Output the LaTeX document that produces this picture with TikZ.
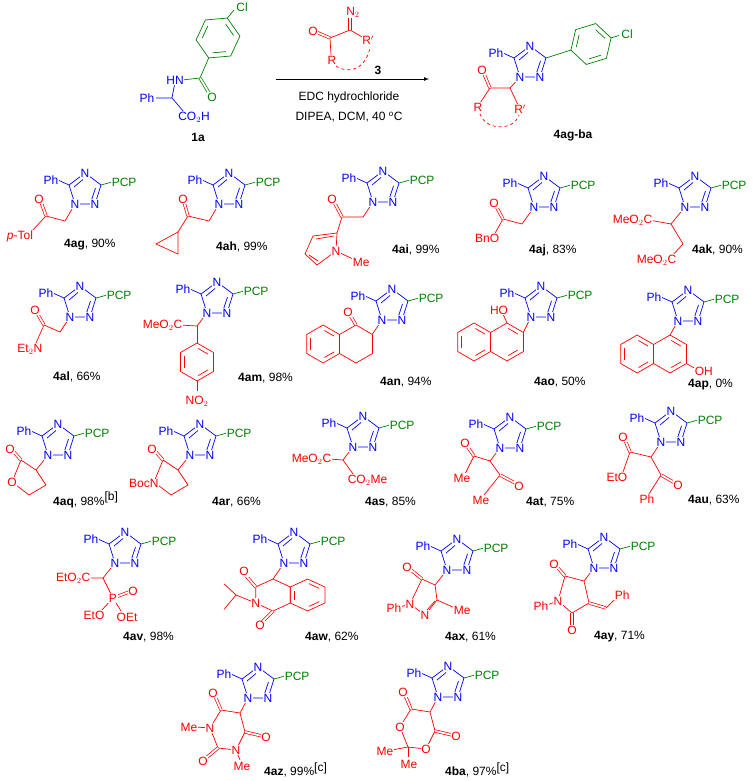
\documentclass[tikz,border=0pt]{standalone}
\usepackage{fontspec}
\usetikzlibrary{calc}
\setmainfont{Liberation Sans}
\definecolor{cb}{RGB}{0,0,255}
\definecolor{cr}{RGB}{255,0,0}
\definecolor{cg}{RGB}{0,128,0}
\newcommand\fs{\fontsize{12}{14}\selectfont}
\tikzset{b/.style={line width=0.7pt},
 db/.style={line width=0.7pt,double=white,double distance=1.8pt},
 atm/.style={fill=white,inner sep=0.6pt,font=\fs},
 lab/.style={inner sep=0pt,font=\fs,anchor=west}}
\newcommand\hexr[3]{\draw[b] (#1,#2-#3)--(#1+0.866*#3,#2-0.5*#3)--(#1+0.866*#3,#2+0.5*#3)--(#1,#2+#3)--(#1-0.866*#3,#2+0.5*#3)--(#1-0.866*#3,#2-0.5*#3)--cycle;}
\newcommand\arotwo[3]{\draw[b,shorten <=1.5pt,shorten >=1.5pt] (#1,#2-0.75*#3)--(#1+0.65*#3,#2-0.375*#3);
 \draw[b,shorten <=1.5pt,shorten >=1.5pt] (#1+0.65*#3,#2+0.375*#3)--(#1,#2+0.75*#3);}
\newcommand\aro[3]{\arotwo{#1}{#2}{#3}\draw[b,shorten <=1.5pt,shorten >=1.5pt] (#1-0.65*#3,#2+0.375*#3)--(#1-0.65*#3,#2-0.375*#3);}
% rotated aromatic hexagon: centre x, centre y, radius, angle of first vertex
\newcommand\rhex[4]{%
 \draw[b] ($(#1,#2)+(#4:#3)$) -- ($(#1,#2)+(#4+60:#3)$) -- ($(#1,#2)+(#4+120:#3)$) -- ($(#1,#2)+(#4+180:#3)$) -- ($(#1,#2)+(#4+240:#3)$) -- ($(#1,#2)+(#4+300:#3)$) -- cycle;
 \foreach \k in {0,120,240}{\draw[b,shorten <=1.5pt,shorten >=1.5pt] ($(#1,#2)+(#4+\k:0.75*#3)$) -- ($(#1,#2)+(#4+\k+60:0.75*#3)$);}}
\newcommand\tzring{%
 \draw[b,cb] (0,0)--(20,0)--(26,-19)--(10,-31)--(-6,-19)--cycle;
 \draw[b,cb] (16.5,-4)--(20.5,-16);
 \draw[b,cb] (-1,-17)--(8,-24.5);
 \draw[b,cb] (-6,-19)--(-17,-24);
 \node[atm,text=cb] at (0,0) {N};
 \node[atm,text=cb] at (20,0) {N};
 \node[atm,text=cb] at (10,-31) {N};
 \node[atm,text=cb,anchor=east] at (-16,-24) {Ph};}
\newcommand\tz{\tzring
 \draw[b,cg] (26,-19)--(37,-22);
 \node[atm,text=cg,anchor=west] at (36,-22) {PCP};}
\newcommand\cpd[4]{\node[lab] at (#1,#2) {\textbf{#3}, #4};}
\begin{document}
\begin{tikzpicture}[x=1pt,y=-1pt]
\useasboundingbox (0,0) rectangle (754,781);
% ---- 1a
\begin{scope}[cg]
\rhex{218}{38}{22}{-65}
\draw[b] (227.3,18.1)--(234,10);
\draw[b] (208.7,57.9)--(200,78);
\draw[db] (200,78)--(209,93);
\node[atm,text=cg] at (242,7) {Cl};
\node[atm,text=cg] at (212,97) {O};
\end{scope}
\draw[b,cg] (200,78)--(182,80);
\draw[b,cb] (175,82)--(172,98)--(156,98);
\draw[b,cb] (172,98)--(184,112);
\node[atm,text=cb] at (175,80) {HN};
\node[atm,text=cb] at (147,98) {Ph};
\node[atm,text=cb] at (194,117) {CO$_2$H};
\node[font=\fs\bfseries] at (198,137) {1a};
% ---- reagent 3
\begin{scope}[cr]
\draw[db] (330,38)--(316,32);
\draw[b] (330,38)--(350,30)--(364,38);
\draw[db] (350,30)--(350,18);
\draw[b] (330,38)--(331,55);
\draw[b,dashed] (336,66) .. controls (344,72) and (364,74) .. (370,48);
\node[atm,text=cr] at (313,31) {O};
\node[atm,text=cr] at (353,12) {N$_2$};
\node[atm,text=cr] at (368,40) {R$'$};
\node[atm,text=cr] at (332,60) {R};
\end{scope}
\node[font=\fs\bfseries] at (378,70) {3};
\draw[b,-latex] (276,79)--(429,79);
\node[font=\fs] at (349,97) {EDC hydrochloride};
\node[font=\fs] at (349,117) {DIPEA, DCM, 40 $^{\mathrm{o}}$C};
% ---- product
\begin{scope}[shift={(520,77)}]
\begin{scope}[cr]
\draw[b] (0,0)--(-10,11)--(-30,11);
\draw[db] (-30,11)--(-36,-3);
\draw[b] (-30,11)--(-40,26);
\draw[b] (-10,11)--(-2,28);
\draw[b,dashed] (-40,37) .. controls (-34,54) and (-6,54) .. (-1,38);
\node[atm,text=cr] at (-38,-7) {O};
\node[atm,text=cr] at (-42,30) {R};
\node[atm,text=cr] at (0,32) {R$'$};
\end{scope}
\tzring
\end{scope}
\begin{scope}[cg]
\draw[b] (546,58)--(570.9,50.1);
\rhex{591}{44}{21}{163}
\draw[b] (611.1,37.9)--(619,35.5);
\node[atm,text=cg] at (627,34) {Cl};
\end{scope}
\node[font=\fs\bfseries] at (573,135) {4ag-ba};
% ================= row 1
\begin{scope}[shift={(75,204)}]
\begin{scope}[cr]
\draw[b] (0,0)--(-10,17)--(-29,12)--(-44,28);
\draw[db] (-29,12)--(-34,-2);
\node[atm,text=cr] at (-36,-5) {O};
\node[atm,text=cr] at (-55,32) {\textit{p}-Tol};
\end{scope}\tz
\end{scope}
\cpd{64}{245}{4ag}{90\%}
\begin{scope}[shift={(219,204)}]
\begin{scope}[cr]
\draw[b] (0,0)--(-10,17)--(-31,12)--(-41,28);
\draw[db] (-31,12)--(-35,-2);
\draw[b] (-41,28)--(-63,40)--(-41,50)--cycle;
\node[atm,text=cr] at (-36,-5) {O};
\end{scope}\tz
\end{scope}
\cpd{216}{247}{4ah}{99\%}
\begin{scope}[shift={(373,202)}]
\begin{scope}[cr]
\draw[b] (0,0)--(-10,15)--(-31,15)--(-36,31);
\draw[db] (-31,15)--(-39,0);
\draw[b] (-36,31)--(-60,34)--(-68,52)--(-56,63)--(-37,49)--cycle;
\draw[b] (-39,34)--(-57,37);
\draw[b] (-64,53)--(-55,59);
\draw[b] (-37,49)--(-20,57);
\node[atm,text=cr] at (-41,-3) {O};
\node[atm,text=cr] at (-37,49) {N};
\node[atm,text=cr,anchor=west] at (-21,60) {Me};
\end{scope}\tz
\end{scope}
\cpd{392}{250}{4ai}{99\%}
\begin{scope}[shift={(534,207)}]
\begin{scope}[cr]
\draw[b] (0,0)--(-12,17)--(-31,12)--(-40,28);
\draw[db] (-31,12)--(-38,-1);
\node[atm,text=cr] at (-40,-4) {O};
\node[atm,text=cr,anchor=east] at (-34,31) {BnO};
\end{scope}\tz
\end{scope}
\cpd{529}{250}{4aj}{83\%}
\begin{scope}[shift={(685,207)}]
\begin{scope}[cr]
\draw[b] (0,0)--(-14,17)--(-36,13);
\draw[b] (-14,17)--(-2,37)--(-14,50);
\node[atm,text=cr,anchor=east] at (-32,13) {MeO$_2$C};
\node[atm,text=cr,anchor=east] at (-8,53) {MeO$_2$C};
\end{scope}\tz
\end{scope}
\cpd{692}{250}{4ak}{90\%}
% ================= row 2
\begin{scope}[shift={(70,317)}]
\begin{scope}[cr]
\draw[b] (0,0)--(-10,15)--(-26,8)--(-34,26);
\draw[db] (-26,8)--(-33,-4);
\node[atm,text=cr] at (-35,-7) {O};
\node[atm,text=cr,anchor=east] at (-27,32) {Et$_2$N};
\end{scope}\tz
\end{scope}
\cpd{53}{377}{4al}{66\%}
\begin{scope}[shift={(207,313)}]
\begin{scope}[cr]
\draw[b] (0,0)--(-10,13)--(-28,12);
\draw[b] (-10,13)--(-10,30);
\hexr{-10}{49}{19}\aro{-10}{49}{19}
\draw[b] (-10,68)--(-10,78);
\node[atm,text=cr,anchor=east] at (-24,12) {MeO$_2$C};
\node[atm,text=cr] at (-10,88) {NO$_2$};
\end{scope}\tz
\end{scope}
\cpd{238}{378}{4am}{98\%}
\begin{scope}[shift={(382,320)}]
\begin{scope}[cr]
\draw[b] (0,0)--(-9.5,14);
\hexr{-26}{24}{19}
\hexr{-58.9}{24}{19}\aro{-58.9}{24}{19}
\draw[db] (-26,5)--(-32,-5);
\node[atm,text=cr] at (-34,-8) {O};
\end{scope}\tz
\end{scope}
\cpd{380}{382}{4an}{94\%}
\begin{scope}[shift={(531,317)}]
\begin{scope}[cr]
\draw[b] (0,0)--(-7.5,15);
\hexr{-24}{25}{19}\arotwo{-24}{25}{19}
\hexr{-56.9}{25}{19}\aro{-56.9}{25}{19}
\draw[b] (-24,6)--(-28,-3);
\node[atm,text=cr] at (-32,-7) {HO};
\end{scope}\tz
\end{scope}
\cpd{534}{382}{4ao}{50\%}
\begin{scope}[shift={(678,321)}]
\begin{scope}[cr]
\draw[b] (0,0)--(-8,14);
\hexr{-8}{33}{19}\arotwo{-8}{33}{19}
\hexr{-40.9}{33}{19}\aro{-40.9}{33}{19}
\draw[b] (8.5,42.5)--(18,48);
\node[atm,text=cr,anchor=west] at (16,50) {OH};
\end{scope}\tz
\end{scope}
\cpd{688}{385}{4ap}{0\%}
% ================= row 3
\begin{scope}[shift={(48,455)}]
\begin{scope}[cr]
\draw[b] (0,0)--(-12,15)--(-27,5)--(-36,27)--(-19,40)--(-2,30)--(-12,15);
\draw[db] (-27,5)--(-35,-4);
\node[atm,text=cr] at (-38,-6) {O};
\node[atm,text=cr] at (-36,27) {O};
\end{scope}\tz
\end{scope}
\node[lab] at (53,500) {\textbf{4aq}, 98\%$^{\textrm{[b]}}$};
\begin{scope}[shift={(190,455)}]
\begin{scope}[cr]
\draw[b] (0,0)--(-12,15)--(-27,5)--(-36,27)--(-19,40)--(-2,30)--(-12,15);
\draw[db] (-27,5)--(-35,-4);
\node[atm,text=cr] at (-38,-6) {O};
\node[atm,text=cr,anchor=east,inner sep=0.3pt] at (-31,28) {BocN};
\end{scope}\tz
\end{scope}
\cpd{212}{502}{4ar}{66\%}
\begin{scope}[shift={(353,447)}]
\begin{scope}[cr]
\draw[b] (0,0)--(-10,13)--(-24,12);
\draw[b] (-10,13)--(0,27);
\node[atm,text=cr,anchor=east] at (-21,12) {MeO$_2$C};
\node[atm,text=cr,anchor=west] at (-6,33) {CO$_2$Me};
\end{scope}\tz
\end{scope}
\cpd{365}{502}{4as}{85\%}
\begin{scope}[shift={(500,448)}]
\begin{scope}[cr]
\draw[b] (0,0)--(-10,13)--(-26,8)--(-35,26);
\draw[db] (-26,8)--(-33,-2);
\draw[b] (-10,13)--(0,27)--(-16,47);
\draw[db] (0,27)--(15,35);
\node[atm,text=cr] at (-35,-5) {O};
\node[atm,text=cr] at (-38,30) {Me};
\node[atm,text=cr] at (19,38) {O};
\node[atm,text=cr] at (-19,52) {Me};
\end{scope}\tz
\end{scope}
\cpd{526}{502}{4at}{75\%}
\begin{scope}[shift={(661,442)}]
\begin{scope}[cr]
\draw[b] (0,0)--(-10,15)--(-31,10)--(-38,30);
\draw[db] (-31,10)--(-36,-2);
\node[atm,text=cr] at (-38,-5) {O};
\draw[b] (-10,15)--(0,33)--(-12,52);
\draw[db] (0,33)--(14,41);
\node[atm,text=cr,anchor=east] at (-33,35) {EtO};
\node[atm,text=cr] at (17,43) {O};
\node[atm,text=cr] at (-14,57) {Ph};
\end{scope}\tz
\end{scope}
\cpd{688}{500}{4au}{63\%}
% ================= row 4
\begin{scope}[shift={(115,563)}]
\begin{scope}[cr]
\draw[b] (0,0)--(-12,15)--(-27,15);
\draw[b] (-12,15)--(-2,35);
\draw[db] (-2,35)--(14,29);
\draw[b] (-2,35)--(-14,48);
\draw[b] (-2,35)--(6,48);
\node[atm,text=cr,anchor=east] at (-24,15) {EtO$_2$C};
\node[atm,text=cr] at (-2,35) {P};
\node[atm,text=cr] at (18,28) {O};
\node[atm,text=cr] at (-21,52) {EtO};
\node[atm,text=cr] at (12,54) {OEt};
\end{scope}\tz
\end{scope}
\cpd{123}{637}{4av}{98\%}
\begin{scope}[shift={(284,563)}]
\begin{scope}[cr]
\begin{scope}[yscale=0.8]
\draw[b] (0,0)--(-11,20);
\hexr{-11}{40}{20}
\hexr{23.6}{40}{20}\aro{23.6}{40}{20}
\draw[db] (-28.3,30)--(-38,16);
\draw[db] (-11,60)--(-22,74);
\draw[b] (-28.3,50)--(-48,40)--(-60,26);
\draw[b] (-48,40)--(-60,58);
\node[atm,text=cr] at (-40,11) {O};
\node[atm,text=cr] at (-24,78) {O};
\node[atm,text=cr] at (-28.3,50) {N};
\end{scope}
\end{scope}\tz
\end{scope}
\cpd{305}{637}{4aw}{62\%}
\begin{scope}[shift={(447,570)}]
\begin{scope}[cr]
\draw[b] (0,0)--(-12,15)--(-25,9)--(-37,34)--(-22,45)--(-10,30)--(-12,15);
\draw[b] (-20,40)--(-12,31);
\draw[db] (-25,9)--(-36,0);
\draw[b] (-37,34)--(-47,37);
\draw[b] (-10,30)--(8,38);
\node[atm,text=cr] at (-40,-3) {O};
\node[atm,text=cr] at (-37,34) {N};
\node[atm,text=cr] at (-22,45) {N};
\node[atm,text=cr,anchor=east] at (-45,38) {Ph};
\node[atm,text=cr,anchor=west] at (6,40) {Me};
\end{scope}\tz
\end{scope}
\cpd{445}{637}{4ax}{61\%}
\begin{scope}[shift={(594,568)}]
\begin{scope}[cr]
\draw[b] (0,0)--(-10,13)--(-29,8)--(-36,33)--(-22,45)--(-5,35)--(-10,13);
\draw[db] (-29,8)--(-37,-1);
\draw[db] (-22,45)--(-22,58);
\draw[db] (-5,35)--(12,40);
\draw[b] (12,40)--(22,30);
\draw[b] (-36,33)--(-47,37);
\node[atm,text=cr] at (-40,-4) {O};
\node[atm,text=cr] at (-22,62) {O};
\node[atm,text=cr] at (-36,33) {N};
\node[atm,text=cr,anchor=east] at (-45,38) {Ph};
\node[atm,text=cr,anchor=west] at (20,27) {Ph};
\end{scope}\tz
\end{scope}
\cpd{594}{637}{4ay}{71\%}
% ================= row 5
\begin{scope}[shift={(248,698)}]
\begin{scope}[cr]
\draw[b] (0,0)--(-8,15)--(-27,12)--(-38,30)--(-30,50)--(-12,52)--(-3,34)--(-8,15);
\draw[db] (-27,12)--(-33,-2);
\draw[db] (-30,50)--(-42,60);
\draw[db] (-3,34)--(14,38);
\draw[b] (-38,30)--(-52,29);
\draw[b] (-12,52)--(-8,62);
\node[atm,text=cr] at (-35,-5) {O};
\node[atm,text=cr] at (-38,30) {N};
\node[atm,text=cr] at (-12,52) {N};
\node[atm,text=cr,anchor=east] at (-50,29) {Me};
\node[atm,text=cr] at (-6,68) {Me};
\node[atm,text=cr] at (-45,63) {O};
\node[atm,text=cr] at (18,39) {O};
\end{scope}\tz
\end{scope}
\node[lab] at (264,770) {\textbf{4az}, 99\%$^{\textrm{[c]}}$};
\begin{scope}[shift={(438,697)}]
\begin{scope}[cr]
\draw[b] (0,0)--(-8,15)--(-27,12)--(-38,30)--(-30,50)--(-12,52)--(-3,34)--(-8,15);
\draw[db] (-27,12)--(-33,-2);
\draw[db] (-3,34)--(14,38);
\draw[b] (-30,50)--(-46,53);
\draw[b] (-30,50)--(-30,60);
\node[atm,text=cr] at (-35,-5) {O};
\node[atm,text=cr] at (-38,30) {O};
\node[atm,text=cr] at (-12,52) {O};
\node[atm,text=cr] at (18,39) {O};
\node[atm,text=cr,anchor=east] at (-44,54) {Me};
\node[atm,text=cr] at (-29,67) {Me};
\end{scope}\tz
\end{scope}
\node[lab] at (445,770) {\textbf{4ba}, 97\%$^{\textrm{[c]}}$};
\end{tikzpicture}
\end{document}
